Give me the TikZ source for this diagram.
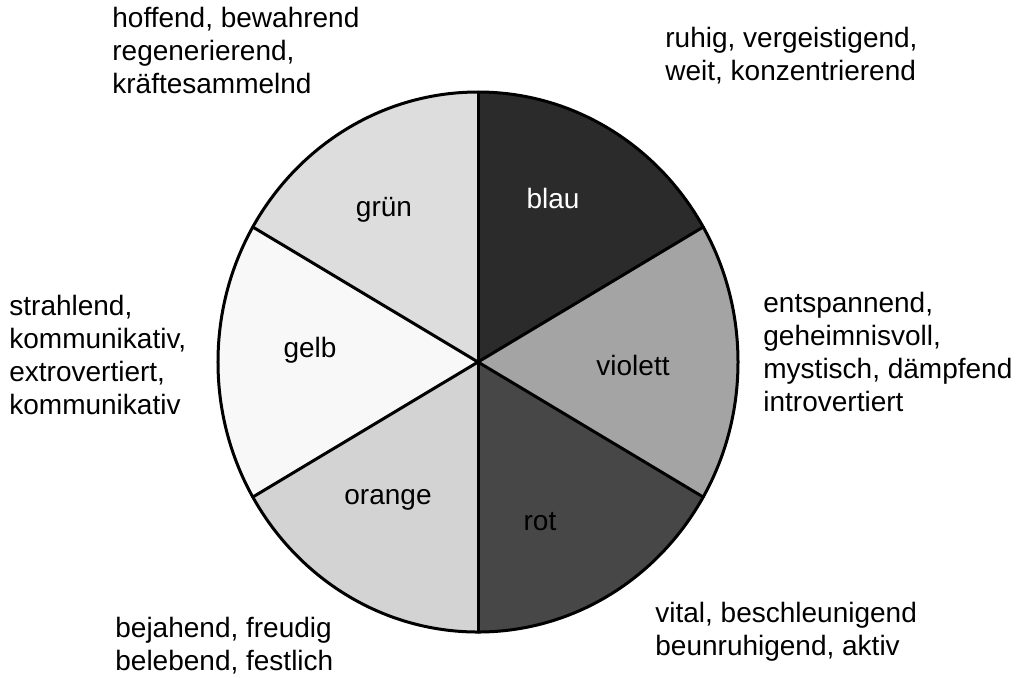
\documentclass[tikz,border=0pt]{standalone}
\usepackage{fontspec}
\setmainfont{Liberation Sans}
\definecolor{cblau}{HTML}{2B2B2B}
\definecolor{cviolett}{HTML}{A4A4A4}
\definecolor{crot}{HTML}{474747}
\definecolor{corange}{HTML}{D3D3D3}
\definecolor{cgelb}{HTML}{F8F8F8}
\definecolor{cgruen}{HTML}{DDDDDD}
\tikzset{
  rx/.store in=\rx, rx=130pt,
  sector/.style={draw=none},
  spoke/.style={line width=1.5pt, line cap=round},
  rim/.style={line width=1.5pt},
  desc/.style={anchor=north west, inner sep=0pt, align=left, font=\fontsize{14pt}{16.5pt}\selectfont},
  lbl/.style={inner sep=0pt, font=\fontsize{14pt}{16.5pt}\selectfont}
}
\newcommand{\sectorfill}[3]{%
  \fill[#3] (0,0) -- (#1:130pt and 135pt) arc[start angle=#1, end angle=#2, x radius=130pt, y radius=135pt] -- cycle;}
\begin{document}
\begin{tikzpicture}[x=0.5pt,y=0.5pt]
\useasboundingbox (-478,-315) rectangle (548,362);
\fill[white] (-478,-315) rectangle (548,362);
\coordinate (c) at (0,0);
\sectorfill{30}{90}{cblau}
\sectorfill{90}{150}{cgruen}
\sectorfill{150}{210}{cgelb}
\sectorfill{210}{270}{corange}
\sectorfill{270}{330}{crot}
\sectorfill{330}{390}{cviolett}
\coordinate (p90) at (90:130pt and 135pt);
\coordinate (p270) at (270:130pt and 135pt);
\coordinate (p30) at (30:130pt and 135pt);
\coordinate (p210) at (210:130pt and 135pt);
\coordinate (p150) at (150:130pt and 135pt);
\coordinate (p330) at (330:130pt and 135pt);
\draw[spoke] (p90) -- (p270);
\draw[spoke] (p30) -- (p210);
\draw[spoke] (p150) -- (p330);
\draw[rim] (c) ellipse [x radius=130pt, y radius=135pt];
\node[lbl] (gruen) at (-94,152) {grün};
\node[lbl, text=white] (blau) at (75,164) {blau};
\node[lbl] (gelb) at (-168,12) {gelb};
\node[lbl] (violett) at (155,-3) {violett};
\node[lbl] (orange) at (-90,-138) {orange};
\node[lbl] (rot) at (62,-160) {rot};
\node[desc] (tl) at (-366,355.4) {hoffend, bewahrend\\regenerierend,\\kräftesammelnd};
\node[desc] (tr) at (187,335.4) {ruhig, vergeistigend,\\weit, konzentrierend};
\node[desc] (l) at (-469,67.4) {strahlend,\\kommunikativ,\\extrovertiert,\\kommunikativ};
\node[desc] (r) at (285,70.4) {entspannend,\\geheimnisvoll,\\mystisch, dämpfend\\introvertiert};
\node[desc] (bl) at (-363,-254.6) {bejahend, freudig\\belebend, festlich};
\node[desc] (br) at (177,-239.6) {vital, beschleunigend\\beunruhigend, aktiv};
\end{tikzpicture}
\end{document}
